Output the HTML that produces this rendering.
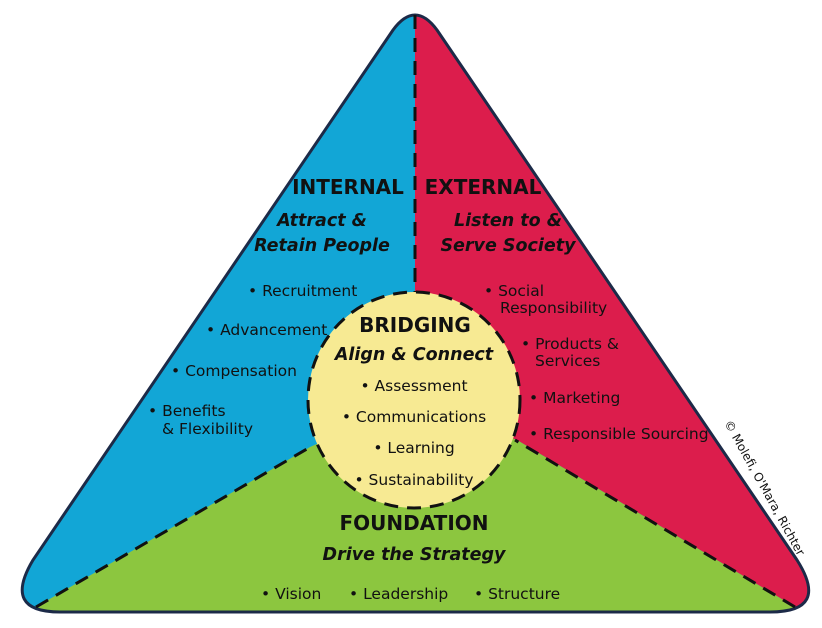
<!DOCTYPE html>
<html><head><meta charset="utf-8"><style>
html,body{margin:0;padding:0;background:#fff;}
svg{display:block;}
text{font-family:"DejaVu Sans","Liberation Sans",sans-serif;fill:#111;}
.h{font-weight:bold;font-size:20px;}
.s{font-weight:bold;font-style:italic;font-size:17.5px;}
.b{font-size:15.5px;}
</style></head><body>
<svg width="822" height="628" viewBox="0 0 822 628" xmlns="http://www.w3.org/2000/svg">
<defs>
<clipPath id="tri"><path d="M437,30 L797,560 Q830,612 770,612 L60,612 Q2,612 33,560 L393,30 Q415,0 437,30 Z"/></clipPath>
</defs>
<g clip-path="url(#tri)">
<rect x="0" y="0" width="822" height="628" fill="#12a6d6"/>
<polygon points="415,0 822,0 822,628 795,607 517,440 415,400" fill="#dc1d4c"/>
<polygon points="36,607 310,447 415,400 517,440 795,607 822,628 0,628" fill="#8cc63f"/>
</g>
<path d="M437,30 L797,560 Q830,612 770,612 L60,612 Q2,612 33,560 L393,30 Q415,0 437,30 Z" fill="none" stroke="#1c2a48" stroke-width="3"/>
<g stroke="#111" stroke-width="3" stroke-dasharray="14,9" fill="none">
<line x1="415" y1="15" x2="415" y2="294"/>
<line x1="36" y1="607" x2="312" y2="446"/>
<line x1="795" y1="607" x2="515" y2="440"/>
</g>
<ellipse cx="414" cy="400" rx="106" ry="108" fill="#f7ea93" stroke="#111" stroke-width="3" stroke-dasharray="14,9"/>
<text class="h" x="348" y="194" text-anchor="middle">INTERNAL</text>
<text class="h" x="483" y="194" text-anchor="middle">EXTERNAL</text>
<text class="s" x="322" y="226" text-anchor="middle">Attract &amp;</text>
<text class="s" x="322" y="251" text-anchor="middle">Retain People</text>
<text class="s" x="508" y="226" text-anchor="middle">Listen to &amp;</text>
<text class="s" x="508" y="251" text-anchor="middle">Serve Society</text>
<text class="b" x="248" y="296">• Recruitment</text>
<text class="b" x="206" y="335">• Advancement</text>
<text class="b" x="171" y="376">• Compensation</text>
<text class="b" x="148" y="416">• Benefits</text>
<text class="b" x="162" y="434">&amp; Flexibility</text>
<text class="b" x="484" y="296">• Social</text>
<text class="b" x="500" y="313">Responsibility</text>
<text class="b" x="521" y="349">• Products &amp;</text>
<text class="b" x="535" y="366">Services</text>
<text class="b" x="529" y="403">• Marketing</text>
<text class="b" x="529" y="439">• Responsible Sourcing</text>
<text class="h" x="415" y="332" text-anchor="middle">BRIDGING</text>
<text class="s" x="414" y="360" text-anchor="middle">Align &amp; Connect</text>
<text class="b" x="414" y="391" text-anchor="middle">• Assessment</text>
<text class="b" x="414" y="422" text-anchor="middle">• Communications</text>
<text class="b" x="414" y="453" text-anchor="middle">• Learning</text>
<text class="b" x="414" y="485" text-anchor="middle">• Sustainability</text>
<text class="h" x="414" y="530" text-anchor="middle">FOUNDATION</text>
<text class="s" x="414" y="560" text-anchor="middle">Drive the Strategy</text>
<text class="b" x="261" y="599">• Vision</text>
<text class="b" x="349" y="599">• Leadership</text>
<text class="b" x="474" y="599">• Structure</text>
<text x="0" y="0" font-size="12" transform="translate(724,423) rotate(61)">© Molefi, O'Mara, Richter</text>
</svg>
</body></html>
